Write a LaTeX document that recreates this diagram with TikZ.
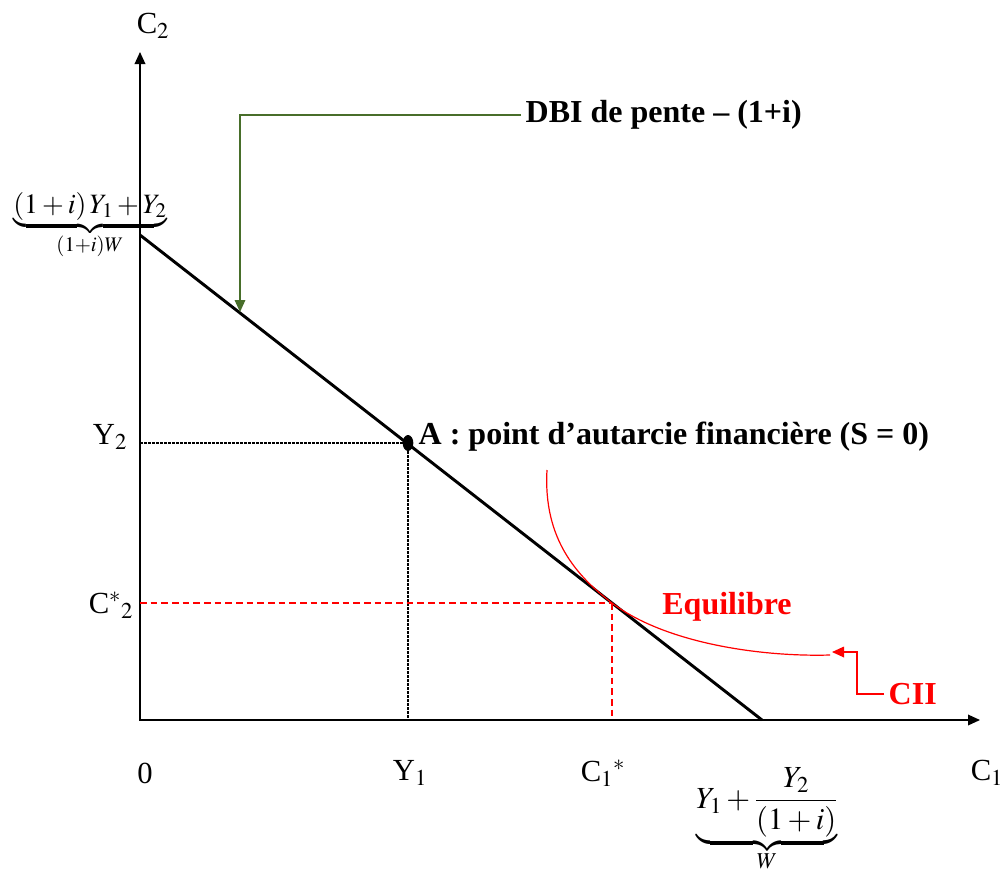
\documentclass[tikz,border=0pt]{standalone}
\usepackage{amsmath,mathptmx}
\usepackage{fontspec}
\setmainfont{Liberation Serif}
\usetikzlibrary{arrows.meta,positioning}
\definecolor{dbigreen}{RGB}{72,110,42}
\begin{document}
\begin{tikzpicture}[x=0.75pt,y=-0.75pt,>={Triangle[length=9pt,width=8pt]},
  font=\fontsize{23}{27}\selectfont,
  axis/.style={line width=1pt,->},
  budget/.style={line width=2.2pt},
  guide/.style={line width=0.8pt,dash pattern=on 2pt off 1pt},
  redguide/.style={draw=red,line width=0.8pt,dash pattern=on 5pt off 3pt},
  note/.style={anchor=west,font=\fontsize{24}{28}\selectfont\bfseries}]
\useasboundingbox (0,0) rectangle (1002,868);
% axes
\coordinate (O) at (140,720);
\coordinate (ytop) at (140,52);
\coordinate (xend) at (980,720);
\draw[axis] (O) -- (ytop);
\draw[axis] (O) -- (xend);
\node (c2) at (153,26) {C$_2$};
\node (c1) at (987,773) {C$_1$};
\node (zero) at (145,773) {0};
% budget line
\coordinate (B) at (140,235);
\coordinate (W) at (762,720);
\draw[budget] (B) -- (W);
\node (wtop) at (90,226) {\fontsize{21}{25}\selectfont$\underbrace{\left(1+i\right)Y_1+Y_2}_{(1+i)W}$};
\node (wbot) at (767,820) {\fontsize{23}{27}\selectfont$\underbrace{Y_1+\dfrac{Y_2}{\left(1+i\right)}}_{W}$};
% autarky point
\coordinate (A) at (408,443);
\coordinate (Ay) at (140,443);
\coordinate (Ax) at (408,720);
\draw[guide] (Ay) -- (A) -- (Ax);
\draw[guide,line width=1.6pt] (Ay) -- (O) -- (Ax);
\fill (A) ellipse [x radius=4pt,y radius=6pt];
\node (y2) at (110,437) {Y$_2$};
\node (y1) at (410,773) {Y$_1$};
\node[note] (alabel) at (414,437) {A : point d’autarcie financière (S = 0)};
% equilibrium
\coordinate (E) at (612,603);
\coordinate (Ey) at (140,603);
\coordinate (Ex) at (612,720);
\draw[redguide] (Ey) -- (E);
\draw[redguide] (E) -- (Ex);
\node (c2s) at (111,605) {C$^{*}{}_{2}$};
\node (c1s) at (603,773) {C$_1{}^{*}$};
\coordinate (icstart) at (547,470);
\coordinate (icend) at (830,655);
\draw[red,line width=0.9pt] (icstart) .. controls (543,540) and (578,577) .. (E)
  .. controls (665,643) and (760,657) .. (icend);
\node[note,red,anchor=center] (eq) at (727,607) {Equilibre};
\node[note,red] (cii) at (884,694) {CII};
\coordinate (ciibend) at (857,694);
\coordinate (ciitip) at (832,652);
\draw[red,line width=0.9pt,->] (cii.west) -- (ciibend) |- (ciitip);
% slope label
\node[note] (dbi) at (521,115) {DBI de pente -- (1+i)};
\coordinate (dbitip) at (240,312);
\draw[dbigreen,line width=0.9pt,->] (dbi.west) -| (dbitip);
\end{tikzpicture}
\end{document}
